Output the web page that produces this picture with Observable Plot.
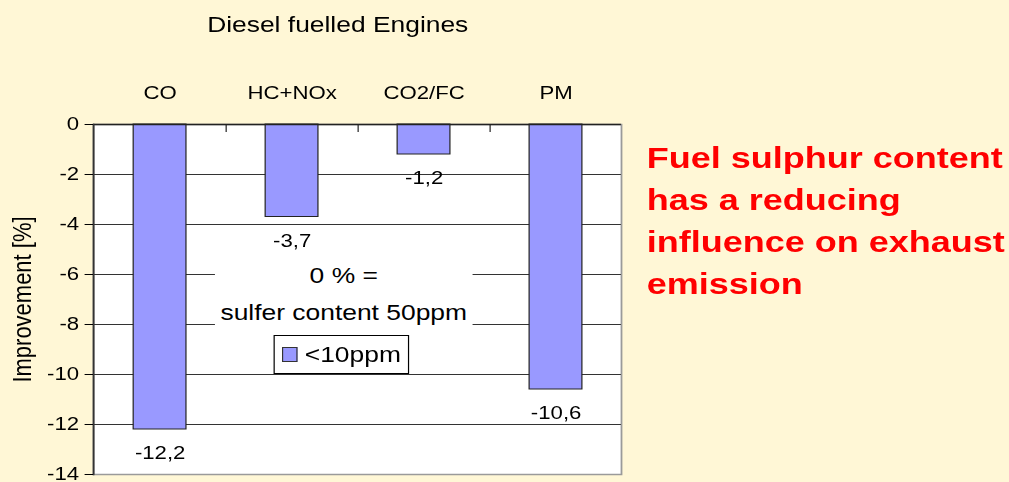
<!DOCTYPE html>
<html>
<head>
<meta charset="utf-8">
<script src="https://cdn.jsdelivr.net/npm/d3@7"></script>
<script src="https://cdn.jsdelivr.net/npm/@observablehq/plot@0.6"></script>
<style>
  html, body { margin: 0; padding: 0; background: #FFF7D6; overflow: hidden; }
  body { width: 1009px; height: 482px; font-family: "Liberation Sans", Arial, sans-serif; }
  #stage { position: relative; width: 841px; height: 482px; transform: scaleX(1.1998); transform-origin: 0 0; }
  #title { height: 50px; line-height: 50px; width: 563px; text-align: center; font-size: 22px; color: #000; }
  #note { position: absolute; left: 179px; top: 257px; width: 215px; background: #fff; text-align: center;
          font-size: 22px; line-height: 37px; color: #000; }
  #legend { position: absolute; left: 228px; top: 335px; width: 111px; height: 37px; background: #fff;
            border: 1px solid #000; font-size: 22px; line-height: 37px; color: #000; }
  #legend .sw { position: absolute; left: 6px; top: 11px; width: 11px; height: 13px; background: #9999FF; border: 1px solid #333; }
  #legend .lb { position: absolute; left: 25px; top: 0; }
  #claim { position: absolute; left: 539px; top: 137px; font-size: 30px; font-weight: bold; line-height: 42px; color: #FF0000; white-space: nowrap; }
</style>
</head>
<body>
<div id="stage">
  <div id="title">Diesel fuelled Engines</div>
  <div id="chart"></div>
  <div id="note">0 % =<br>sulfer content 50ppm</div>
  <div id="legend"><span class="sw"></span><span class="lb">&lt;10ppm</span></div>
  <div id="claim">Fuel sulphur content<br>has a reducing<br>influence on exhaust<br>emission</div>
</div>
<script>
// Data
const categories = ["CO", "HC+NOx", "CO2/FC", "PM"];
const improvement = [-12.2, -3.7, -1.2, -10.6];
const yTicks = [0, -2, -4, -6, -8, -10, -12, -14];
const gridValues = [-2, -4, -6, -8, -10, -12];
const yLabel = "Improvement [%]";

const data = categories.map((c, i) => ({cat: c, value: improvement[i]}));
const fmt = v => v.toFixed(1).replace(".", ",");

const W = 841, H = 432;
const mL = 77.5, mR = 323.5, mT = 74, mB = 8;
const step = (W - mL - mR) / categories.length;
const plotH = H - mT - mB;

const chart = Plot.plot({
  width: W,
  height: H,
  marginLeft: mL,
  marginRight: mR,
  marginTop: mT,
  marginBottom: mB,
  style: {background: "transparent", fontSize: "18.5px", fontFamily: "'Liberation Sans', Arial, sans-serif", color: "#000"},
  x: {domain: categories, padding: 0, axis: null},
  y: {domain: [-14, 0], axis: null},
  marks: [
    Plot.frame({fill: "#fff", stroke: "#9a9a9a", strokeWidth: 1.5}),
    Plot.ruleY(gridValues, {stroke: "#333", strokeWidth: 1}),
    Plot.barY(data, {x: "cat", y: "value", fill: "#9999FF", stroke: "#222", strokeWidth: 1,
                     insetLeft: step * 0.3, insetRight: step * 0.3}),
    Plot.ruleY([0], {stroke: "#222", strokeWidth: 1.5}),
    Plot.frame({anchor: "left", stroke: "#333", strokeWidth: 1.5}),
    Plot.tickX(categories.slice(0, categories.length - 1), {x: d => d, dx: step / 2, insetBottom: plotH - 8, stroke: "#222"}),
    Plot.axisY({ticks: yTicks, tickSize: 7, tickPadding: 5, tickFormat: d => String(d), fontSize: 18.5,
                label: yLabel, labelAnchor: "center", labelOffset: 68, labelArrow: "none"}),
    Plot.text(categories, {x: d => d, frameAnchor: "top", lineAnchor: "middle", dy: -31, fontSize: 18.5, fill: "#000"}),
    Plot.text(data, {x: "cat", y: "value", text: d => fmt(d.value), dy: 24, fontSize: 18.5, fill: "#000"})
  ]
});
// y-axis label size (the reference uses a larger title than tick labels)
chart.querySelectorAll("[aria-label='y-axis label'] text, [aria-label='y-axis label']").forEach(el => {
  el.setAttribute("font-size", 22);
});
document.getElementById("chart").appendChild(chart);
</script>
</body>
</html>
